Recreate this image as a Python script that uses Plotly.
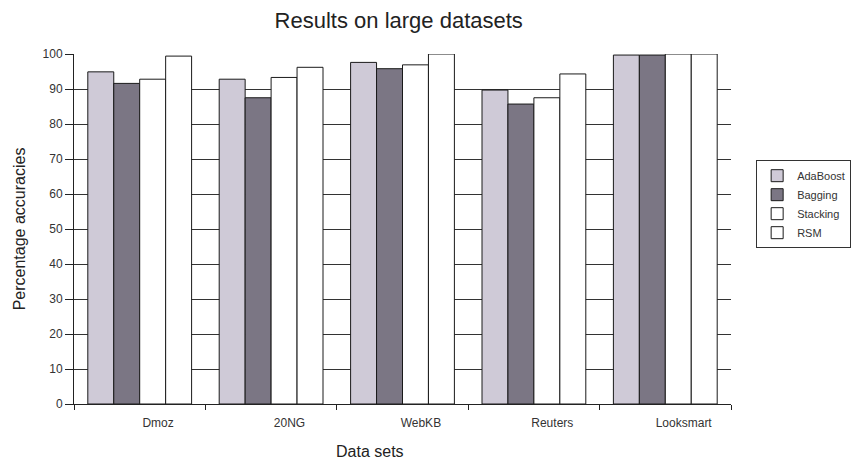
import plotly.graph_objects as go

datasets = ["Dmoz", "20NG", "WebKB", "Reuters", "Looksmart"]
adaboost = [94.9, 92.8, 97.6, 89.7, 99.7]
bagging = [91.6, 87.5, 95.8, 85.7, 99.7]
stacking = [92.8, 93.3, 96.9, 87.5, 100.0]
rsm = [99.4, 96.2, 100.0, 94.3, 100.0]

series = [
    ("AdaBoost", adaboost, "#cfcad7"),
    ("Bagging", bagging, "#7b7684"),
    ("Stacking", stacking, "#ffffff"),
    ("RSM", rsm, "#ffffff"),
]

positions = list(range(len(datasets)))
font_family = "Arial, Liberation Sans, sans-serif"

fig = go.Figure()
for name, values, color in series:
    fig.add_trace(go.Bar(
        name=name,
        x=positions,
        y=values,
        marker=dict(color=color, line=dict(color="#1a1a1a", width=1)),
    ))

fig.update_layout(
    width=852,
    height=467,
    margin=dict(l=74, r=121, t=54, b=63),
    paper_bgcolor="white",
    plot_bgcolor="white",
    barmode="group",
    bargap=0.21,
    bargroupgap=0,
    font=dict(family=font_family, size=12, color="#222"),
    title=dict(
        text="Results on large datasets",
        x=0.468, xanchor="center",
        y=0.957, yanchor="middle",
        font=dict(size=22, color="#222"),
    ),
    legend=dict(
        xref="container", yref="container",
        x=0.999, xanchor="right",
        y=0.657, yanchor="top",
        bordercolor="#333", borderwidth=1,
        font=dict(size=11, color="#333"),
        itemwidth=30,
        tracegroupgap=0,
    ),
    showlegend=True,
)

fig.update_xaxes(
    range=[-0.5, len(datasets) - 0.5],
    tickmode="array",
    tickvals=[p + 0.14 for p in positions],
    ticktext=datasets,
    ticks="",
    ticklabelstandoff=8,
    showgrid=False,
    zeroline=False,
    showline=True,
    linecolor="#222",
    linewidth=1,
    tickfont=dict(size=12, color="#333"),
    minor=dict(
        tickmode="array",
        tickvals=[p - 0.5 for p in positions] + [len(datasets) - 0.5],
        ticks="outside",
        ticklen=5,
        tickcolor="#222",
        showgrid=False,
    ),
)

fig.update_yaxes(
    range=[0, 100],
    tickmode="linear",
    tick0=0,
    dtick=10,
    ticks="outside",
    ticklen=8,
    tickcolor="#222",
    showgrid=True,
    gridcolor="#333",
    gridwidth=1,
    zeroline=False,
    showline=True,
    linecolor="#222",
    linewidth=1,
    tickfont=dict(size=12, color="#333"),
    title=dict(text="Percentage accuracies", font=dict(size=16, color="#222"), standoff=12),
)

fig.add_annotation(
    text="Data sets",
    xref="paper", yref="paper",
    x=0.45, y=-0.137,
    xanchor="center", yanchor="middle",
    showarrow=False,
    font=dict(size=16, color="#222"),
)

fig.write_html("out.html")
